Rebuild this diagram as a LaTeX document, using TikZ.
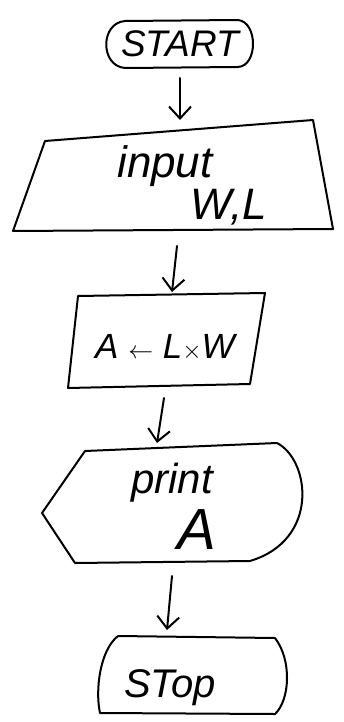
\documentclass[tikz,border=0pt]{standalone}
\usepackage{fontspec}
\setmainfont{Liberation Sans}
\usetikzlibrary{arrows.meta}
\tikzset{
  shapeline/.style={draw=black, line width=2pt, line join=round, line cap=round},
  flowarrow/.style={draw=black, line width=2pt, line cap=round, -{Straight Barb[length=12pt,width=22pt,line width=2pt]}},
  txt/.style={inner sep=0pt, font=\itshape\fontsize{30}{32}\selectfont}
}
\begin{document}
\begin{tikzpicture}[x=1pt,y=-1pt]
\useasboundingbox[fill=white] (0,0) rectangle (343,722);
% START terminal
\draw[shapeline] (125,21) -- (238,20) .. controls (258,22) and (258,66) .. (238,67) -- (125,68) .. controls (100,66) and (100,23) .. (125,21);
\node[txt, font=\itshape\fontsize{37}{39}\selectfont] (start) at (180,44) {START};
% input (manual input)
\draw[shapeline] (45,141) -- (313,120) -- (333,229) -- (13,231) -- cycle;
\node[txt, font=\itshape\fontsize{44}{46}\selectfont] (inp) at (165,166) {input};
\node[txt, font=\itshape\fontsize{44}{46}\selectfont] (wl) at (229,207) {W,L};
% process
\draw[shapeline] (78,296) -- (265,293) -- (250,384) -- (68,388) -- cycle;
\node[txt, font=\itshape\fontsize{35}{37}\selectfont] (proc) at (165,347) {A $\leftarrow$ L$\times$W};
% display
\draw[shapeline] (85,451) -- (277,443) .. controls (310,460) and (320,540) .. (250,561) -- (75,563) -- (42,513) -- cycle;
\node[txt, font=\itshape\fontsize{42}{44}\selectfont] (prt) at (172,483) {print};
\node[txt, font=\itshape\fontsize{58}{60}\selectfont] (outA) at (197,530) {A};
% STOP terminal
\draw[shapeline] (118,636) -- (275,638) .. controls (292,660) and (290,700) .. (275,714) -- (100,713) .. controls (95,690) and (100,650) .. (118,636);
\node[txt, font=\itshape\fontsize{40}{42}\selectfont] (stop) at (170,688) {STop};
% connectors
\coordinate (a1s) at (180,78);
\coordinate (a1e) at (180,120);
\coordinate (a2s) at (177,246);
\coordinate (a2e) at (172,292);
\coordinate (a3s) at (164,398);
\coordinate (a3e) at (157,443);
\coordinate (a4s) at (172,576);
\coordinate (a4e) at (167,630);
\draw[flowarrow] (a1s) -- (a1e);
\draw[flowarrow] (a2s) -- (a2e);
\draw[flowarrow] (a3s) -- (a3e);
\draw[flowarrow] (a4s) -- (a4e);
\end{tikzpicture}
\end{document}
